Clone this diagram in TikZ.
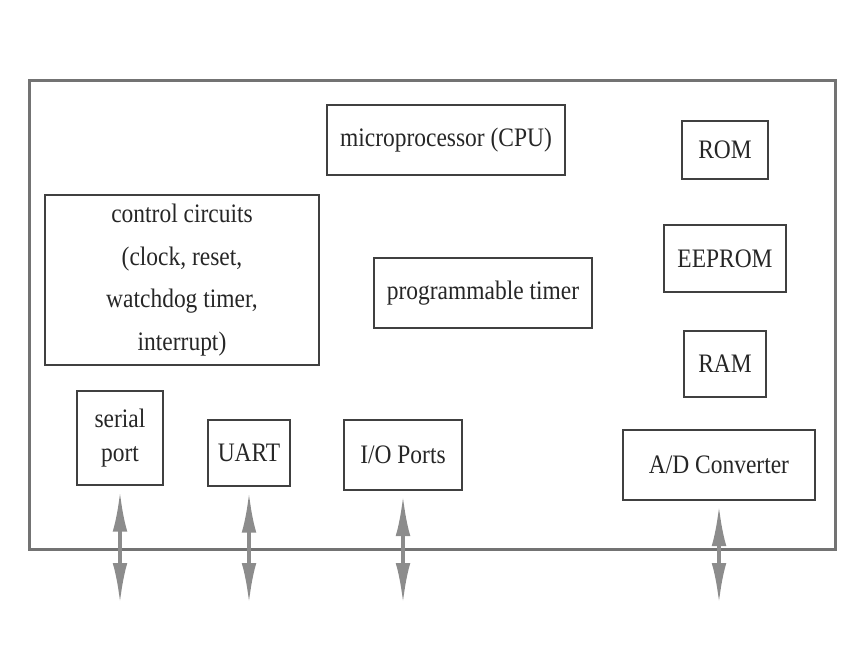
\documentclass[tikz,border=0pt]{standalone}
\usepackage{fontspec}
\setmainfont{Liberation Serif}[FakeStretch=0.88]
\usetikzlibrary{positioning, arrows.meta}

\begin{document}
\begin{tikzpicture}[x=0.75pt, y=-0.75pt,
                block/.style={draw=black!75, line width=1.5pt, rectangle, align=center, text=black!85, font=\fontsize{20}{32}\selectfont},
                chip/.style={draw=black!55, line width=2.4pt, rectangle, minimum width=604pt, minimum height=352pt},
                bus/.style={draw=black!45, line width=2.6pt, {Latex[length=30pt,width=11pt]}-{Latex[length=30pt,width=11pt]}}
            ]
            \useasboundingbox (0,0) rectangle (849,663);

            % Rahmen
            \node[chip] (chip) at (432.5,315) {};

            % Bausteine
            \node[block, minimum width=178pt, minimum height=52pt] (cpu) at (446,140) {microprocessor (CPU)};
            \node[block, minimum width=64pt, minimum height=44pt] (rom) at (725,150) {ROM};
            \node[block, minimum width=91pt, minimum height=50pt, below=33pt of rom] (eeprom) {EEPROM};
            \node[block, minimum width=62pt, minimum height=49pt, below=28pt of eeprom] (ram) {RAM};
            \node[block, minimum width=206pt, minimum height=128pt] (ctrl) at (182,280) {control circuits\\(clock, reset,\\watchdog timer,\\interrupt)};
            \node[block, minimum width=163pt, minimum height=52pt] (timer) at (483,293) {programmable timer};
            \node[block, minimum width=64pt, minimum height=71pt, font=\fontsize{20}{26}\selectfont] (serial) at (120,438) {serial\\port};
            \node[block, minimum width=62pt, minimum height=50pt] (uart) at (249,453) {UART};
            \node[block, minimum width=88pt, minimum height=52pt] (io) at (403,455) {I/O Ports};
            \node[block, minimum width=144pt, minimum height=52pt] (adc) at (719,465) {A/D Converter};

            % Bus
            \coordinate (buslow) at (0,603);
            \draw[bus] ([yshift=-4pt]serial.south) -- (serial.south |- buslow);
            \draw[bus] ([yshift=-4pt]uart.south) -- (uart.south |- buslow);
            \draw[bus] ([yshift=-4pt]io.south) -- (io.south |- buslow);
            \draw[bus] ([yshift=-4pt]adc.south) -- (adc.south |- buslow);

\end{tikzpicture}
\end{document}
